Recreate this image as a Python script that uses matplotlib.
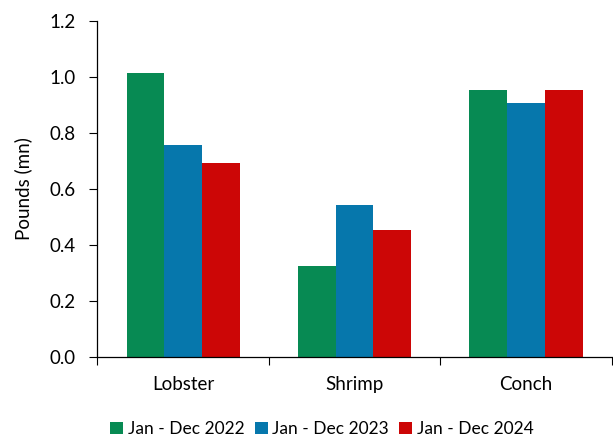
import numpy as np
import matplotlib
matplotlib.use('Agg')
import matplotlib.pyplot as plt

plt.rcParams['font.family'] = ['Lato', 'DejaVu Sans']

# Landings by species, millions of pounds
categories = ['Lobster', 'Shrimp', 'Conch']
series_labels = ['Jan - Dec 2022', 'Jan - Dec 2023', 'Jan - Dec 2024']
values_2022 = [1.015, 0.325, 0.953]
values_2023 = [0.757, 0.543, 0.906]
values_2024 = [0.693, 0.454, 0.953]
colors = ['#078a53', '#0677ac', '#cc0606']

fs = 13.5

fig = plt.figure(figsize=(6.13, 4.37), dpi=100)
ax = fig.add_axes([0.159, 0.183, 0.839, 0.769])

x = np.arange(len(categories))
w = 0.22
for i, (vals, lab, c) in enumerate(zip([values_2022, values_2023, values_2024],
                                       series_labels, colors)):
    ax.bar(x + (i - 1) * w, vals, width=w, color=c, label=lab)

ax.set_xlim(-0.5, 2.5)
ax.set_ylim(0, 1.2)
yt = np.arange(0, 1.21, 0.2)
ax.set_yticks(yt)
ax.set_yticklabels([f'{v:.1f}' for v in yt], fontsize=fs)
ax.set_xticks(x)
ax.set_xticklabels(categories, fontsize=fs)
ax.set_xticks([-0.5, 0.5, 1.5, 2.5], minor=True)
ax.tick_params(axis='x', which='major', length=0, pad=14)
ax.tick_params(axis='x', which='minor', length=6, width=0.8, direction='out')
ax.tick_params(axis='y', length=6, width=0.8, direction='out', pad=10)
ax.set_ylabel('Pounds (mn)', fontsize=fs, labelpad=12)

for s in ['top', 'right']:
    ax.spines[s].set_visible(False)
for s in ['left', 'bottom']:
    ax.spines[s].set_linewidth(0.9)

handles, labels = ax.get_legend_handles_labels()
fig.legend(handles, labels, loc='center', bbox_to_anchor=(0.525, 0.018),
           ncol=3, frameon=False, fontsize=12.5, handlelength=0.75,
           handleheight=0.75, handletextpad=0.25, columnspacing=0.6,
           borderpad=0, borderaxespad=0)

fig.savefig('out.png', dpi=100)
